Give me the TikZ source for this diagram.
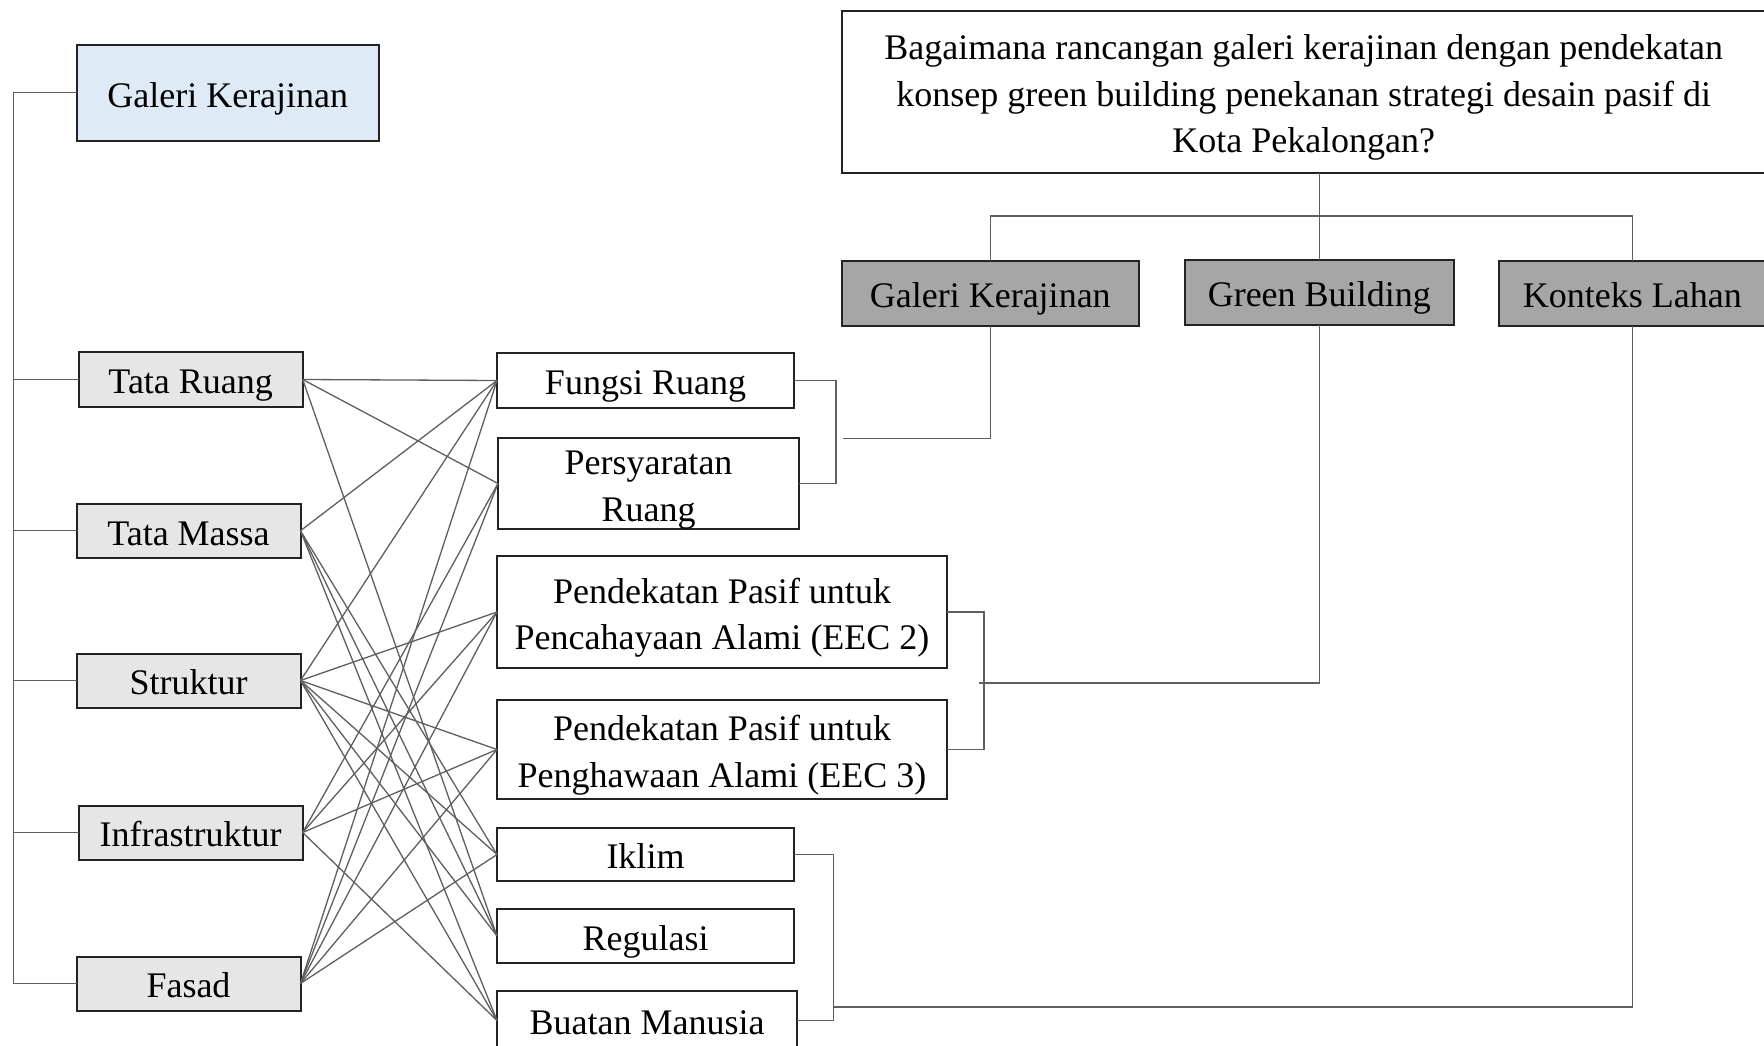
\documentclass[tikz,border=0pt]{standalone}
\usepackage{fontspec}
\setmainfont{Liberation Serif}
\definecolor{lineC}{RGB}{95,95,95}
\definecolor{boxC}{RGB}{35,35,35}
\definecolor{blueF}{RGB}{222,235,247}
\definecolor{lgF}{RGB}{231,230,230}
\definecolor{dgF}{RGB}{166,166,166}
\newcommand{\ms}{\rule[-7.8pt]{0pt}{44.2pt}}
\begin{document}
\begin{tikzpicture}[x=1pt,y=-1pt,
  box/.style={draw=boxC, line width=2pt, inner sep=0pt, outer sep=0pt,
    font=\fontsize{36}{46.5}\selectfont, align=center},
  conn/.style={draw=lineC, line width=1.3pt}]
\useasboundingbox (0,0) rectangle (1764,1046);
\fill[white] (0,0) rectangle (1764,1046);
\clip (0,0) rectangle (1764,1046);

% left column
\node[box, fill=blueF, minimum width=302.5pt, minimum height=95.6pt] (gk0) at (227.75,92.8) {\ms Galeri Kerajinan};
\node[box, fill=lgF, minimum width=224pt, minimum height=55pt] (tr) at (190.7,379.5) {\ms Tata Ruang};
\node[box, fill=lgF, minimum width=224pt, minimum height=53.5pt] (tm) at (188.5,530.75) {\ms Tata Massa};
\node[box, fill=lgF, minimum width=224pt, minimum height=54pt] (st) at (188.5,680.5) {\ms Struktur};
\node[box, fill=lgF, minimum width=224pt, minimum height=54pt] (inf) at (190.7,832.5) {\ms Infrastruktur};
\node[box, fill=lgF, minimum width=224pt, minimum height=54pt] (fa) at (188.5,983.5) {\ms Fasad};

% middle column
\node[box, fill=white, minimum width=297pt, minimum height=55pt] (fr) at (645.5,380.5) {\ms Fungsi Ruang};
\node[box, fill=white, minimum width=301pt, minimum height=89pt] (pr) at (648.5,483.5) {\ms Persyaratan\\\ms Ruang};
\node[box, fill=white, minimum width=450pt, minimum height=112pt] (e2) at (722,612) {\ms Pendekatan Pasif untuk\\\ms Pencahayaan Alami (EEC 2)};
\node[box, fill=white, minimum width=450pt, minimum height=99pt] (e3) at (722,749.5) {\ms Pendekatan Pasif untuk\\\ms Penghawaan Alami (EEC 3)};
\node[box, fill=white, minimum width=297pt, minimum height=53pt] (ik) at (645.5,854.5) {\ms Iklim};
\node[box, fill=white, minimum width=297pt, minimum height=54pt] (rg) at (645.5,936) {\ms Regulasi};
\node[box, fill=white, minimum width=300pt, minimum height=59pt] (bm) at (647,1020.5) {\ms Buatan Manusia};

% top
\node[box, fill=white, minimum width=924.5pt, minimum height=162.3pt] (q) at (1303.75,91.85)
  {\ms Bagaimana rancangan galeri kerajinan dengan pendekatan\\\ms konsep green building penekanan strategi desain pasif di\\\ms Kota Pekalongan?};
\node[box, fill=dgF, minimum width=297.5pt, minimum height=64.5pt] (gk) at (990.25,293.25) {\ms Galeri Kerajinan};
\node[box, fill=dgF, minimum width=268.5pt, minimum height=64.5pt] (gb) at (1319.25,292.25) {\ms Green Building};
\node[box, fill=dgF, minimum width=267.4pt, minimum height=64.5pt] (kl) at (1632.3,293.25) {\ms Konteks Lahan};

% left tree
\coordinate (lx) at (13.5,0);
\draw[conn] (gk0.west) -- (gk0.west -| lx) -- (fa.west -| lx) -- (fa.west);
\foreach \n in {tr,tm,st,inf}{\draw[conn] (\n.west -| lx) -- (\n.west);}

% top tree
\coordinate (hy) at (0,216);
\draw[conn] (gb.north) -- (gb.north |- q.south);
\draw[conn] (gk.north) -- (gk.north |- hy) -- (kl.north |- hy) -- (kl.north);

% brackets
\coordinate (b1) at (836,0);
\draw[conn] (fr.east) -- (fr.east -| b1) -- (pr.east -| b1) -- (pr.east);
\coordinate (b1m) at (842.6,438.75);
\draw[conn] (gk.south) |- (b1m);
\coordinate (b2) at (984,0);
\draw[conn] (e2.east) -- (e2.east -| b2) -- (e3.east -| b2) -- (e3.east);
\coordinate (b2m) at (979,683);
\draw[conn] (gb.south) |- (b2m);
\coordinate (b3) at (833.6,0);
\draw[conn] (ik.east) -- (ik.east -| b3) -- (bm.east -| b3) -- (bm.east);
\coordinate (b3m) at (833.6,1007);
\draw[conn] (kl.south) |- (b3m);

% cross links
\foreach \a/\b in {tr/fr, tr/pr, tr/rg,
                   tm/fr, tm/ik, tm/rg, tm/bm,
                   st/fr, st/e2, st/e3, st/ik, st/rg, st/bm,
                   inf/pr, inf/e2, inf/e3, inf/bm,
                   fa/fr, fa/pr, fa/e2, fa/e3, fa/ik}
  {\draw[conn] (\a.east) -- (\b.west);}
\end{tikzpicture}
\end{document}
